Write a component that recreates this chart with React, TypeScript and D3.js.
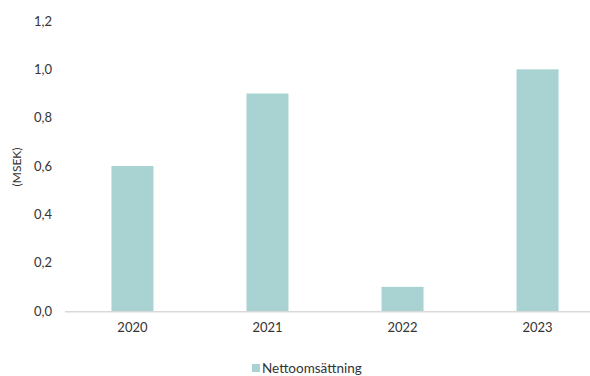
import React from "react";
import * as d3 from "d3";

const categories = ["2020", "2021", "2022", "2023"];
const values = [0.6, 0.9, 0.1, 1.0];
const yTicks = [0, 0.2, 0.4, 0.6, 0.8, 1.0, 1.2];
const seriesName = "Nettoomsättning";
const yTitle = "(MSEK)";

const W = 590;
const H = 376;
const font = "Lato, 'Open Sans', sans-serif";

export default function App() {
  const x = d3.scaleBand<string>().domain(categories).range([65, 605]).paddingInner(0.689).paddingOuter(0.344);
  const y = d3.scaleLinear().domain([0, 1.2]).range([311, 21]);
  const fmt = (v: number) => v.toFixed(1).replace(".", ",");
  return (
    <svg width={W} height={H} style={{ position: "absolute", left: 0, top: 0 }} fontFamily={font}>
      {values.map((v, i) => (
        <rect key={i} x={x(categories[i])} y={y(v)} width={x.bandwidth()} height={y(0) - y(v)} fill="#a8d3d2" />
      ))}
      <line x1={65} x2={W} y1={y(0) + 0.75} y2={y(0) + 0.75} stroke="#d9d9d9" strokeWidth={1.5} />
      {yTicks.map((t) => (
        <text key={t} x={52} y={y(t)} dy="0.35em" textAnchor="end" fontSize={13} fill="#333">
          {fmt(t)}
        </text>
      ))}
      {categories.map((c) => (
        <text key={c} x={(x(c) ?? 0) + x.bandwidth() / 2} y={332} textAnchor="middle" fontSize={13} fill="#333">
          {c}
        </text>
      ))}
      <text transform={`translate(21,167) rotate(-90)`} textAnchor="middle" fontSize={12} fill="#333">
        {yTitle}
      </text>
      <rect x={252} y={364} width={8} height={8} fill="#a8d3d2" />
      <text x={262} y={373} fontSize={13.5} fill="#333">
        {seriesName}
      </text>
    </svg>
  );
}
